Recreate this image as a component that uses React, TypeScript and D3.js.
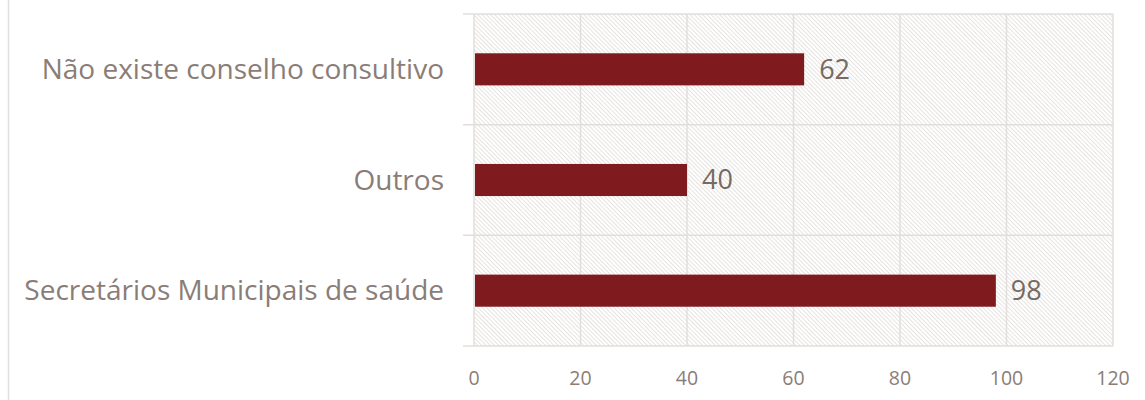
import React from "react";
import * as d3 from "d3";

const categories = ["Não existe conselho consultivo", "Outros", "Secretários Municipais de saúde"];
const values = [62, 40, 98];
const xTicks = [0, 20, 40, 60, 80, 100, 120];

const W = 1145, H = 400;
const margin = { left: 474, right: 32, top: 14, bottom: 54 };

export default function App() {
  const x = d3.scaleLinear().domain([0, 120]).range([margin.left, W - margin.right]);
  const y = d3.scaleBand().domain(categories).range([margin.top, H - margin.bottom]).paddingInner(0).paddingOuter(0);
  const barH = y.bandwidth() * 0.29;
  const textColor = "#8a7d77";
  const grid = "#e2dedb";
  const font = "'Open Sans', sans-serif";
  const boundaries = [...categories.map((c) => y(c)!), H - margin.bottom];
  return (
    <svg width={W} height={H} style={{ position: "absolute", left: 0, top: 0 }}>
      <defs>
        <pattern id="hatch" width="3" height="3" patternUnits="userSpaceOnUse" patternTransform="rotate(-45)">
          <rect width="3" height="3" fill="#ffffff" />
          <line x1="0.5" y1="0" x2="0.5" y2="3" stroke="#e6e3e0" strokeWidth="1" />
        </pattern>
      </defs>
      <rect x={0} y={0} width={W} height={H} fill="#fff" />
      <line x1={8.5} y1={0} x2={8.5} y2={H} stroke={grid} strokeWidth={1.5} />
      <rect x={margin.left} y={margin.top} width={x(120) - margin.left} height={H - margin.bottom - margin.top} fill="url(#hatch)" />
      {xTicks.map((t) => (
        <line key={"g" + t} x1={x(t)} x2={x(t)} y1={margin.top} y2={H - margin.bottom} stroke={grid} strokeWidth={1.5} />
      ))}
      {boundaries.map((b, i) => (
        <line key={"h" + i} x1={margin.left - 11} x2={x(120)} y1={b} y2={b} stroke={grid} strokeWidth={1.5} />
      ))}
      {categories.map((c, i) => (
        <g key={c}>
          <rect x={x(0) + 1} y={y(c)! + y.bandwidth() / 2 - barH / 2} width={x(values[i]) - x(0) - 1} height={barH} fill="#7f1a1e" />
          <text x={x(values[i]) + 15} y={y(c)! + y.bandwidth() / 2} dy="0.35em" fontFamily={font} fontSize={27} fill="#766a64">{values[i]}</text>
          <text x={444} y={y(c)! + y.bandwidth() / 2} dy="0.35em" textAnchor="end" fontFamily={font} fontSize={28} fill={textColor}>{c}</text>
        </g>
      ))}
      {xTicks.map((t) => (
        <text key={"t" + t} x={x(t)} y={378.5} dy="0.35em" textAnchor="middle" fontFamily={font} fontSize={19.5} fill={textColor}>{t}</text>
      ))}
    </svg>
  );
}
